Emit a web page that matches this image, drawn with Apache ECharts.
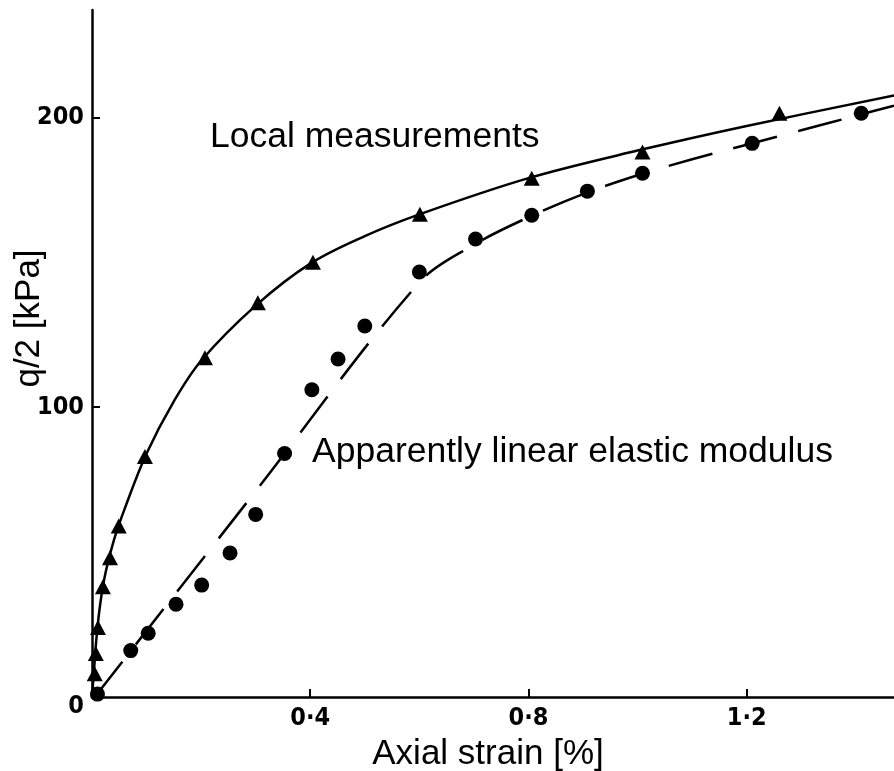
<!DOCTYPE html>
<html>
<head>
<meta charset="utf-8">
<script src="https://cdn.jsdelivr.net/npm/echarts@6/dist/echarts.min.js"></script>
<style>
  html, body { margin: 0; padding: 0; background: #fff; }
  #chart { width: 894px; height: 771px; }
</style>
</head>
<body>
<div id="chart"></div>
<script>
// Axis ticks
const xTickValues = [0.4, 0.8, 1.2];
const yTickValues = [0, 100, 200];

// Local measurements: measured points [axial strain %, q/2 kPa]
const localPoints = [
  [0.005, 8], [0.007, 15], [0.011, 24], [0.02, 38], [0.033, 48], [0.049, 59],
  [0.097, 83], [0.207, 117], [0.304, 136], [0.405, 150], [0.601, 166.5],
  [0.806, 179], [1.009, 188], [1.26, 201.4]
];
// Local measurements: fitted curve
const localCurve = [
  [0, 0], [0.004, 10], [0.008, 20], [0.015, 32], [0.025, 43], [0.04, 54],
  [0.06, 65], [0.1, 84], [0.15, 102], [0.2, 116], [0.3, 135], [0.4, 149.5],
  [0.5, 159], [0.6, 166.5], [0.8, 179], [1.0, 188.5], [1.2, 197], [1.47, 207.5]
];

// Apparently linear elastic modulus: measured points
const elasticPoints = [
  [0.01, 1], [0.071, 16], [0.103, 22], [0.154, 32], [0.201, 38.6], [0.253, 49.7],
  [0.3, 63], [0.353, 84], [0.403, 106], [0.451, 116.6], [0.5, 128], [0.6, 146.6],
  [0.703, 158], [0.806, 166.2], [0.908, 174.5], [1.009, 180.7], [1.21, 191], [1.41, 201.4]
];
// Apparently linear elastic modulus: fitted curve
const elasticCurve = [
  [0.005, 0], [0.3, 71], [0.6, 143], [0.7, 156], [0.8, 165.5], [0.9, 173.5],
  [1.0, 180], [1.1, 185.5], [1.2, 190.5], [1.3, 195.5], [1.4, 200.5], [1.47, 204]
];

const labels = {
  local: 'Local measurements',
  elastic: 'Apparently linear elastic modulus',
  xName: 'Axial strain [%]',
  yName: 'q/2 [kPa]'
};

const textFont = '"Liberation Sans", Arial, sans-serif';
const tickFont = '"Liberation Sans Narrow", "DejaVu Sans Condensed", sans-serif';

const chart = echarts.init(document.getElementById('chart'));
chart.setOption({
  animation: false,
  backgroundColor: '#fff',
  grid: { left: 92, right: 0, top: 10, bottom: 74, containLabel: false, outerBoundsMode: 'none' },
  xAxis: {
    type: 'value',
    min: 0, max: 1.47,
    name: labels.xName,
    nameLocation: 'middle',
    nameGap: 40,
    nameMoveOverlap: false,
    nameTextStyle: { fontFamily: textFont, fontSize: 35, color: '#000', padding: [0, 10, 0, 0] },
    axisLine: { show: true, onZero: false, lineStyle: { color: '#000', width: 2.5 } },
    axisTick: { show: true, inside: true, length: 8, customValues: xTickValues,
                lineStyle: { color: '#000', width: 2 } },
    axisLabel: {
      customValues: xTickValues,
      margin: 9,
      fontFamily: tickFont, fontSize: 25, fontWeight: 'bold', color: '#000',
      formatter: v => v.toFixed(1).replace('.', '\u00b7')
    },
    splitLine: { show: false }
  },
  yAxis: {
    type: 'value',
    min: 0, max: 237,
    name: labels.yName,
    nameLocation: 'middle',
    nameGap: 45,
    nameMoveOverlap: false,
    nameTextStyle: { fontFamily: textFont, fontSize: 35, color: '#000', padding: [0, 0, 0, 70] },
    axisLine: { show: true, lineStyle: { color: '#000', width: 2.5 } },
    axisTick: { show: true, inside: true, length: 8, customValues: yTickValues,
                lineStyle: { color: '#000', width: 2 } },
    axisLabel: {
      customValues: yTickValues,
      margin: 8,
      fontFamily: tickFont, fontSize: 25, fontWeight: 'bold', color: '#000',
      formatter: v => v === 0 ? '{zero|0}' : String(v),
      rich: {
        zero: { fontFamily: tickFont, fontSize: 25, fontWeight: 'bold', color: '#000', padding: [18, 0, 0, 0] }
      }
    },
    splitLine: { show: false }
  },
  graphic: [
    {
      type: 'text', left: 210, top: 119, silent: true,
      style: { text: labels.local, font: '35.5px ' + textFont, fill: '#000' }
    },
    {
      type: 'text', left: 312, top: 434, silent: true,
      style: { text: labels.elastic, font: '35.5px ' + textFont, fill: '#000' }
    }
  ],
  series: [
    {
      name: labels.local + ' curve',
      type: 'line',
      data: localCurve,
      smooth: 0.35,
      symbol: 'none',
      lineStyle: { color: '#000', width: 2.5 },
      z: 2
    },
    {
      name: labels.local,
      type: 'scatter',
      data: localPoints,
      symbol: 'triangle',
      symbolSize: [16, 15],
      itemStyle: { color: '#000', opacity: 1 },
      z: 3
    },
    {
      name: labels.elastic + ' curve',
      type: 'line',
      data: elasticCurve,
      smooth: 0.35,
      symbol: 'none',
      lineStyle: { color: '#000', width: 2.5, type: [45, 22] },
      z: 2
    },
    {
      name: labels.elastic,
      type: 'scatter',
      data: elasticPoints,
      symbol: 'circle',
      symbolSize: 15,
      itemStyle: { color: '#000', opacity: 1 },
      z: 3
    }
  ]
});
</script>
</body>
</html>
